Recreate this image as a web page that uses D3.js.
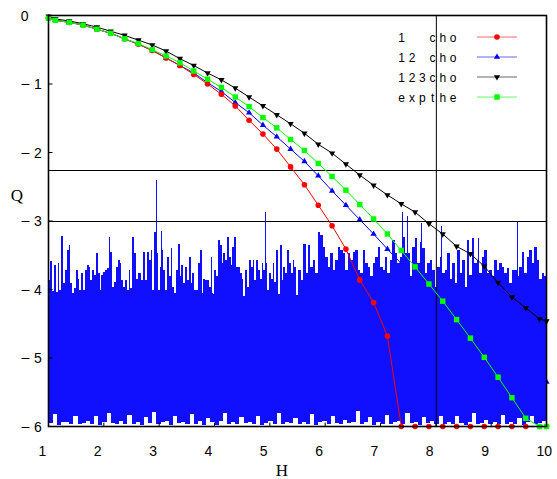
<!DOCTYPE html>
<html lang="en">
<head>
<meta charset="UTF-8">
<title>Q versus H</title>
<script src="https://d3js.org/d3.v7.min.js"></script>
<style>
  body { margin: 0; background: #fff; }
  svg { display: block; }
  .tick-label { font-family: "Liberation Sans", Arial, sans-serif; font-size: 14px; fill: #000; }
  .legend-char { font-family: "Liberation Sans", Arial, sans-serif; font-size: 12px; fill: #000; }
  .axis-title { font-family: "Liberation Serif", "Times New Roman", serif; font-size: 17px; fill: #000; }
  .frame { fill: none; stroke: #000; stroke-width: 1.6px; }
  .ref-line { stroke: #000; stroke-width: 1px; }
</style>
</head>
<body>
<div id="chart"></div>
<script>
// x values shared by the four series
const H = [1, 1.125, 1.375, 1.625, 1.875, 2.125, 2.375, 2.625, 2.875, 3.125, 3.375, 3.625, 3.875,
  4.125, 4.375, 4.625, 4.875, 5.125, 5.375, 5.625, 5.875, 6.125, 6.375, 6.625, 6.875, 7.125,
  7.375, 7.625, 7.875, 8.125, 8.375, 8.625, 8.875, 9.125, 9.375, 9.625, 9.875, 10];

const q1cho = [-0.03, -0.07, -0.10, -0.14, -0.20, -0.26, -0.34, -0.42, -0.51, -0.62, -0.73, -0.86, -1.00,
  -1.15, -1.32, -1.53, -1.73, -1.95, -2.21, -2.47, -2.77, -3.07, -3.41, -3.86, -4.19, -4.68,
  -6, -6, -6, -6, -6, -6, -6, -6, -6, -6, -6, -6];
const q12cho = [-0.03, -0.07, -0.10, -0.14, -0.20, -0.26, -0.34, -0.42, -0.51, -0.62, -0.73, -0.84, -0.98,
  -1.11, -1.27, -1.42, -1.60, -1.77, -1.95, -2.13, -2.34, -2.56, -2.77, -2.98, -3.19, -3.41,
  -3.62, -3.98, -4.25, -4.48, -4.68, -4.85, -4.98, -5.08, -5.17, -5.25, -5.32, -5.35];
const q123cho = [-0.01, -0.05, -0.08, -0.12, -0.17, -0.23, -0.29, -0.36, -0.43, -0.52, -0.63, -0.73, -0.84,
  -0.94, -1.06, -1.19, -1.32, -1.45, -1.58, -1.72, -1.88, -2.01, -2.17, -2.33, -2.48, -2.62,
  -2.75, -2.87, -3.04, -3.19, -3.37, -3.48, -3.66, -3.90, -4.11, -4.27, -4.43, -4.46];
const qExpthe = [-0.04, -0.07, -0.10, -0.14, -0.20, -0.26, -0.34, -0.41, -0.50, -0.59, -0.69, -0.81, -0.93,
  -1.05, -1.19, -1.33, -1.49, -1.64, -1.81, -1.97, -2.16, -2.35, -2.55, -2.76, -2.97, -3.19,
  -3.43, -3.67, -3.92, -4.17, -4.44, -4.71, -4.99, -5.28, -5.58, -5.88, -6.0, -6.0];

// noisy blue band: spike tops, left part (H 1..5.51) and right part (5.51..10)
const noiseSplit = 5.51;
const noiseTopA = [-3.86, -3.59, -4.06, -3.64, -4.08, -3.62, -4.01, -3.22, -3.91, -3.72, -3.42, -3.35, -3.91,
  -4.30, -3.98, -3.72, -3.84, -4.01, -3.76, -4.01, -3.72, -3.64, -3.67, -3.86, -3.72, -3.79, -3.47,
  -3.76, -4.15, -3.79, -3.74, -3.72, -3.69, -3.23, -3.45, -3.96, -3.89, -3.67, -3.57, -3.62, -3.86,
  -3.96, -3.86, -4.01, -3.72, -3.98, -3.23, -3.47, -3.84, -3.76, -3.76, -3.86, -3.45, -3.86, -3.45,
  -3.57, -3.42, -4.01, -3.16, -3.47, -4.01, -3.67, -3.42, -3.72, -4.01, -3.52, -3.81, -3.40, -3.96,
  -4.10, -3.72, -3.33, -3.81, -3.64, -3.91, -3.67, -3.86, -3.52, -3.91, -3.76, -4.01, -4.01, -3.62,
  -3.42, -4.30, -3.84, -3.86, -3.86, -3.96, -3.52, -4.25, -3.72, -3.81, -3.28, -3.35, -3.62, -3.47,
  -3.57, -3.23, -3.52, -3.64, -3.38, -3.23, -3.67, -3.67, -3.76, -3.84, -4.15, -3.72, -3.96, -3.57,
  -3.67, -3.57, -3.86, -3.57, -3.72, -3.84, -3.62, -3.72, -3.62, -4.01, -3.76, -3.84, -3.62, -3.89,
  -3.42, -4.15, -3.35, -3.86, -3.67, -3.76, -3.42, -3.62, -3.76, -3.57, -3.67, -4.30];
const noiseTopB = [-3.72, -3.86, -3.33, -3.76, -3.35, -3.67, -3.57, -3.76, -3.16, -3.20, -3.38, -3.52, -3.67,
  -3.47, -3.72, -3.57, -3.38, -3.42, -3.47, -3.72, -3.47, -3.57, -3.45, -3.42, -3.72, -3.76, -3.42,
  -3.62, -3.67, -3.81, -3.62, -3.52, -3.38, -3.67, -3.72, -3.52, -3.76, -3.57, -3.28, -3.47, -3.62,
  -3.52, -3.23, -3.47, -3.47, -3.81, -3.38, -3.25, -3.62, -3.30, -3.40, -3.76, -3.62, -3.57, -3.72,
  -3.96, -3.67, -3.52, -3.76, -3.72, -3.47, -3.84, -3.62, -3.91, -3.42, -3.76, -3.57, -3.96, -3.28,
  -3.79, -3.25, -3.62, -3.57, -3.76, -3.52, -3.42, -3.76, -3.72, -3.81, -3.57, -3.72, -3.62, -3.67,
  -3.76, -3.69, -3.91, -3.72, -3.72, -3.81, -3.67, -3.45, -3.76, -3.52, -3.42, -3.62, -3.38, -3.57,
  -3.84, -3.76, -3.81];
// level where the band becomes solid, every 0.5 in H from 1 to 10
const noiseBody = [-4.02, -4.06, -4.00, -4.04, -4.08, -4.03, -4.06, -4.10, -4.05, -4.08, -4.12, -4.10,
  -4.14, -4.10, -4.16, -4.12, -4.10, -4.14, -4.12];
// lower edge of the band, 120 steps from H 1 to 10
const noiseLow = [-5.95, -5.82, -5.98, -5.94, -5.93, -5.96, -5.84, -5.97, -5.95, -5.92,
  -5.96, -5.85, -5.98, -5.93, -5.80, -5.95, -5.97, -5.92, -5.96, -5.83,
  -5.97, -5.94, -5.98, -5.86, -5.95, -5.79, -5.96, -5.93, -5.92, -5.98,
  -5.85, -5.95, -5.93, -5.97, -5.82, -5.96, -5.92, -5.98, -5.87, -5.94,
  -5.98, -5.92, -5.81, -5.96, -5.94, -5.97, -5.86, -5.95, -5.93, -5.97,
  -5.84, -5.98, -5.95, -5.92, -5.96, -5.80, -5.97, -5.93, -5.95, -5.87,
  -5.97, -5.93, -5.96, -5.82, -5.98, -5.94, -5.92, -5.96, -5.85, -5.95,
  -5.97, -5.91, -5.95, -5.93, -5.78, -5.97, -5.94, -5.86, -5.98, -5.93,
  -5.96, -5.83, -5.97, -5.94, -5.92, -5.96, -5.81, -5.95, -5.93, -5.98,
  -5.86, -5.95, -5.92, -5.97, -5.84, -5.96, -5.94, -5.97, -5.85, -5.95,
  -5.98, -5.93, -5.80, -5.96, -5.95, -5.91, -5.97, -5.93, -5.96, -5.83,
  -5.97, -5.93, -5.96, -5.87, -5.98, -5.94, -5.84, -5.96, -5.95, -5.92];
// the few tall isolated spikes
const spikeH = [2.95, 3.04, 4.91, 7.39, 7.47, 7.74, 8.10, 8.77, 9.46];
const spikeQ = [-2.40, -3.14, -2.87, -2.87, -2.93, -3.03, -3.07, -3.25, -3.01];

const refQ = [-2.25, -3];
const refH = [8];

const xTicks = [1, 2, 3, 4, 5, 6, 7, 8, 9, 10];
const yTicks = [0, -1, -2, -3, -4, -5, -6];

const seriesNames = ['1  cho', '12 cho', '123cho', 'expthe'];
const seriesColors = ['#ff0000', '#0000ff', '#000000', '#00ff00'];
const seriesShapes = ['circle', 'triangle', 'triangleDown', 'square'];
const seriesValues = [q1cho, q12cho, q123cho, qExpthe];

const width = 557, height = 479;
const plot = { left: 48.5, right: 546.5, top: 15.5, bottom: 426.5 };
const noiseColor = '#1010ff';

const svg = d3.select('#chart').append('svg')
  .attr('width', width)
  .attr('height', height);

const x = d3.scaleLinear().domain([1, 10]).range([plot.left, plot.right]);
const y = d3.scaleLinear().domain([-6, 0]).range([plot.bottom, plot.top]);

svg.append('clipPath').attr('id', 'plot-clip')
  .append('rect')
  .attr('x', plot.left).attr('y', plot.top)
  .attr('width', plot.right - plot.left).attr('height', plot.bottom - plot.top);

// ---- markers
function drawMarker(g, shape, color, cx, cy) {
  if (shape === 'circle') {
    g.append('circle').attr('cx', cx).attr('cy', cy).attr('r', 2.8).attr('fill', color);
  } else if (shape === 'square') {
    g.append('rect').attr('x', cx - 2.7).attr('y', cy - 2.7)
      .attr('width', 5.4).attr('height', 5.4).attr('fill', color);
  } else {
    const sym = d3.symbol().type(d3.symbolTriangle).size(17);
    g.append('path').attr('d', sym())
      .attr('transform', `translate(${cx},${cy})` + (shape === 'triangleDown' ? ' rotate(180)' : ''))
      .attr('fill', color);
  }
}

const line = d3.line().x((d, i) => x(H[i])).y(d => y(d));
function drawSeries(s) {
  const g = svg.append('g');
  g.append('path')
    .datum(seriesValues[s])
    .attr('fill', 'none')
    .attr('stroke', seriesColors[s])
    .attr('stroke-width', 1)
    .attr('d', line);
  seriesValues[s].forEach((v, i) => drawMarker(g, seriesShapes[s], seriesColors[s], x(H[i]), y(v)));
}

// the blue series sinks into the band, so it goes underneath it
drawSeries(1);

// ---- noise band
const noise = svg.append('g')
  .attr('clip-path', 'url(#plot-clip)')
  .attr('shape-rendering', 'crispEdges');

const bodyH = noiseBody.map((d, i) => 1 + i * 0.5);
noise.append('path')
  .datum(noiseBody)
  .attr('fill', noiseColor)
  .attr('d', d3.area()
    .x((d, i) => x(bodyH[i]))
    .y0(y(-5.75))
    .y1(d => y(d)));

const lowStep = 9 / noiseLow.length;
const lowPts = noiseLow.map((q, i) => ({ h: 1 + i * lowStep, q }));
lowPts.push({ h: 10, q: noiseLow[noiseLow.length - 1] });
noise.append('path')
  .datum(lowPts)
  .attr('fill', noiseColor)
  .attr('d', d3.area()
    .curve(d3.curveStepAfter)
    .x(d => x(d.h))
    .y0(d => y(d.q))
    .y1(y(-5.7)));

// spike tops as narrow columns
function columns(arr, a, b) {
  const step = (b - a) / arr.length;
  return arr.map((q, i) => ({ h: a + step * i, q }));
}
const topPts = columns(noiseTopA, 1, noiseSplit).concat(columns(noiseTopB, noiseSplit, 10));
topPts.push({ h: 10, q: noiseTopB[noiseTopB.length - 1] });
noise.append('path')
  .datum(topPts)
  .attr('fill', noiseColor)
  .attr('d', d3.area()
    .curve(d3.curveStepAfter)
    .x(d => x(d.h))
    .y0(y(-4.3))
    .y1(d => y(d.q)));

noise.selectAll('.spike')
  .data(spikeH)
  .join('line')
  .attr('class', 'spike')
  .attr('x1', d => Math.round(x(d)) + 0.5).attr('x2', d => Math.round(x(d)) + 0.5)
  .attr('y1', y(-4.1)).attr('y2', (d, i) => y(spikeQ[i]))
  .attr('stroke', noiseColor)
  .attr('stroke-width', 1);

// ---- reference lines
svg.selectAll('.ref-h')
  .data(refQ)
  .join('line')
  .attr('class', 'ref-line')
  .attr('x1', plot.left).attr('x2', plot.right)
  .attr('y1', d => Math.round(y(d)) + 0.5).attr('y2', d => Math.round(y(d)) + 0.5);

svg.selectAll('.ref-v')
  .data(refH)
  .join('line')
  .attr('class', 'ref-line')
  .attr('stroke-width', 1.3)
  .attr('x1', d => x(d) + 0.5).attr('x2', d => x(d) + 0.5)
  .attr('y1', plot.top).attr('y2', plot.bottom);

// ---- remaining series on top of the band
[0, 2, 3].forEach(drawSeries);

// ---- frame and ticks
svg.append('rect').attr('class', 'frame')
  .attr('x', plot.left).attr('y', plot.top)
  .attr('width', plot.right - plot.left).attr('height', plot.bottom - plot.top);

svg.selectAll('.xtick')
  .data(xTicks)
  .join('line')
  .attr('x1', d => x(d)).attr('x2', d => x(d))
  .attr('y1', plot.bottom).attr('y2', plot.bottom - 4)
  .attr('stroke', '#000').attr('stroke-width', 1);

svg.selectAll('.ytick')
  .data(yTicks)
  .join('line')
  .attr('x1', plot.left).attr('x2', plot.left + 4)
  .attr('y1', d => y(d)).attr('y2', d => y(d))
  .attr('stroke', '#000').attr('stroke-width', 1);

svg.selectAll('.xlabel')
  .data(xTicks)
  .join('text')
  .attr('class', 'tick-label')
  .attr('x', d => x(d) - 10)
  .attr('y', 456)
  .text(d => d);

const yLab = svg.selectAll('.ylabel')
  .data(yTicks)
  .join('text')
  .attr('class', 'tick-label')
  .attr('y', d => y(d) + 5);
yLab.each(function(d) {
  const t = d3.select(this);
  if (d === 0) {
    t.append('tspan').attr('x', 20.7).text('0');
  } else {
    t.append('tspan').attr('x', 20.5)
      .attr('textLength', 9.5).attr('lengthAdjust', 'spacingAndGlyphs').text('\u2212');
    t.append('tspan').attr('x', 34).text(Math.abs(d));
  }
});

svg.append('text').attr('class', 'axis-title')
  .attr('x', 282).attr('y', 476).attr('text-anchor', 'middle').text('H');
svg.append('text').attr('class', 'axis-title')
  .attr('x', 17).attr('y', 201).attr('text-anchor', 'middle').text('Q');

// ---- legend
const legend = svg.append('g');
seriesNames.forEach((name, s) => {
  const cy = 37 + s * 20;
  name.split('').forEach((ch, k) => {
    if (ch === ' ') return;
    legend.append('text').attr('class', 'legend-char')
      .attr('x', 401.7 + k * 10.3).attr('y', cy + 4.5)
      .attr('text-anchor', 'middle').text(ch);
  });
  legend.append('line')
    .attr('x1', 477).attr('x2', 517)
    .attr('y1', cy).attr('y2', cy)
    .attr('stroke', seriesColors[s]).attr('stroke-width', 1).attr('stroke-opacity', 0.6);
  drawMarker(legend, seriesShapes[s], seriesColors[s], 497, cy);
});
</script>
</body>
</html>
